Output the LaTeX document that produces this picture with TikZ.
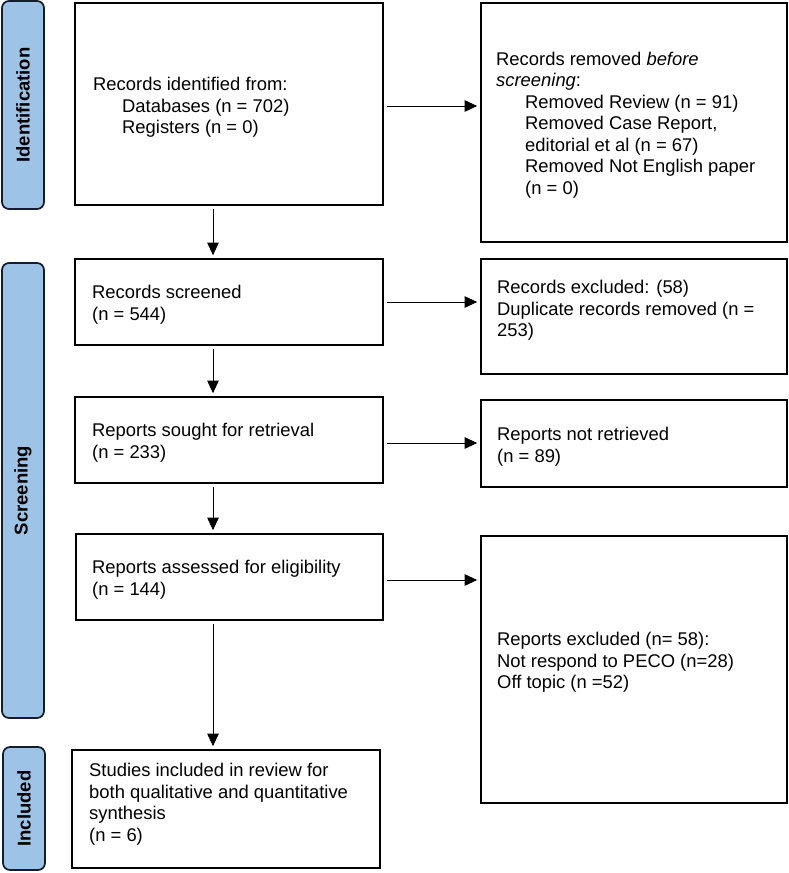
\documentclass[tikz,border=0pt]{standalone}
\usepackage{fontspec}
\setmainfont{Liberation Sans}
\usetikzlibrary{arrows.meta}
\definecolor{phasefill}{RGB}{157,195,230}
\definecolor{phasedraw}{RGB}{20,28,45}
\begin{document}
\begin{tikzpicture}[x=1pt,y=-1pt,
  box/.style={draw=black, line width=1.7pt, rectangle, inner sep=0pt},
  phase/.style={draw=phasedraw, fill=phasefill, line width=1.7pt, rounded corners=7pt, inner sep=0pt, rotate=90,
    font=\bfseries\fontsize{18.5}{21}\selectfont},
  txt/.style={anchor=north west, inner sep=0pt, align=left, font=\fontsize{18.4}{21.5}\selectfont},
  arr/.style={-{Triangle[length=12.5pt,width=11.5pt]}, line width=0.9pt, shorten >=3pt, shorten <=3pt}]
\path[use as bounding box, fill=white] (0,0) rectangle (789,873);

% phase bars
\node[phase, minimum width=208, minimum height=42] (p1) at (23,105) {Identification};
\node[phase, minimum width=455, minimum height=42] (p2) at (23,490.5) {Screening};
\node[phase, minimum width=123, minimum height=42] (p3) at (24,808.5) {Included};

% boxes
\node[box, minimum width=308, minimum height=202] (b1) at (229,104) {};
\node[box, minimum width=306, minimum height=239] (b2) at (634,122.5) {};
\node[box, minimum width=308, minimum height=86] (b3) at (229,302) {};
\node[box, minimum width=306, minimum height=115] (b4) at (634,316.5) {};
\node[box, minimum width=308, minimum height=86] (b5) at (229,440) {};
\node[box, minimum width=306, minimum height=87] (b6) at (634,443.5) {};
\node[box, minimum width=307, minimum height=86] (b7) at (229.5,577) {};
\node[box, minimum width=306, minimum height=267] (b8) at (634,669.5) {};
\node[box, minimum width=308, minimum height=118] (b9) at (226,809) {};

% texts
\node[txt] (t1) at (93,77.3) {Records identified from:\\\hspace*{29pt}Databases (n = 702)\\\hspace*{29pt}Registers (n = 0)};
\node[txt] (t2) at (496,51.7) {Records removed \textit{before}\\\textit{screening}:\\\hspace*{29pt}Removed Review (n = 91)\\\hspace*{29pt}Removed Case Report,\\\hspace*{29pt}editorial et al (n = 67)\\\hspace*{29pt}Removed Not English paper\\\hspace*{29pt}(n = 0)};
\node[txt] (t3) at (92,285) {Records screened\\(n = 544)};
\node[txt] (t4) at (497,280) {Records excluded: (58)\\Duplicate records removed (n =\\253)};
\node[txt] (t5) at (92,423) {Reports sought for retrieval\\(n = 233)};
\node[txt] (t6) at (497,427) {Reports not retrieved\\(n = 89)};
\node[txt] (t7) at (92,560) {Reports assessed for eligibility\\(n = 144)};
\node[txt] (t8) at (497,632) {Reports excluded (n= 58):\\Not respond to PECO (n=28)\\Off topic (n =52)};
\node[txt] (t9) at (89,763) {Studies included in review for\\both qualitative and quantitative\\synthesis\\(n = 6)};

% connectors
\coordinate (ax) at (213,0);
\draw[arr] (b1.south -| ax) -- (b3.north -| ax);
\draw[arr] (b3.south -| ax) -- (b5.north -| ax);
\draw[arr] (b5.south -| ax) -- (b7.north -| ax);
\draw[arr] (b7.south -| ax) -- (b9.north -| ax);
\draw[arr] ([yshift=-2pt]b1.east) -- ([yshift=-2pt]b1.east -| b2.west);
\draw[arr] (b3.east) -- (b3.east -| b4.west);
\draw[arr] ([yshift=-3pt]b5.east) -- ([yshift=-3pt]b5.east -| b6.west);
\draw[arr] ([yshift=-3pt]b7.east) -- ([yshift=-3pt]b7.east -| b8.west);
\end{tikzpicture}
\end{document}
